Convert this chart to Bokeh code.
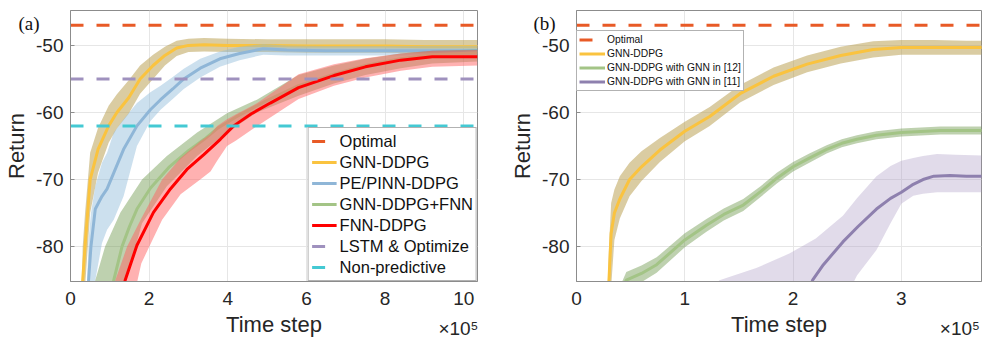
from bokeh.plotting import figure
from bokeh.models import Range1d, FixedTicker, Legend, LegendItem
from bokeh.layouts import row
from bokeh.embed import file_html
from bokeh.resources import INLINE

# ---------------- data (time step in units of 1e5) ----------------
Y_MIN, Y_MAX = -85.2, -44.8
A_XMAX = 10.35
B_XMAX = 3.74
optimal = -47
lstm_opt = -55
non_pred = -62
y_ticks = [-80, -70, -60, -50]
y_tick_text = ["-80", "-70", "-60", "-50"]
a_x_ticks = [0, 2, 4, 6, 8, 10]
b_x_ticks = [0, 1, 2, 3]
exp_text = "\u00d710\u2075"
B_EXP_X = 3.54         # where the x10^5 note sits in panel (b)

# Panel (a)
a_gnn_x = [0.28, 0.31, 0.37, 0.5, 0.7, 0.97, 1.18, 1.48, 1.77, 2.1, 2.4, 2.7, 3.0, 3.4, 4.0, 5.0, 6.0, 7.0, 8.0, 9.0, 10.35]
a_gnn_m = [-95, -85, -80, -70, -65.5, -62, -60, -57.8, -55, -53, -51.5, -50.4, -50.0, -49.9, -50.0, -50.0, -50.1, -50.1, -50.1, -50.2, -50.2]
a_gnn_hi = [-88, -80, -75, -66, -62.3, -59, -57.3, -55.2, -53, -51.4, -50.2, -49.3, -49.0, -48.9, -49.0, -49.1, -49.1, -49.1, -49.1, -49.2, -49.2]
a_gnn_lo = [-100, -92, -86, -75, -69, -64.5, -62.4, -60.2, -57.2, -55, -53, -51.6, -51.0, -50.9, -51.0, -51.0, -51.1, -51.1, -51.1, -51.2, -51.2]

a_pe_x = [0.43, 0.46, 0.52, 0.63, 0.8, 0.93, 1.1, 1.35, 1.69, 2.03, 2.29, 2.6, 2.88, 3.3, 3.8, 4.3, 4.9, 5.5, 6.5, 7.5, 8.5, 9.5, 10.35]
a_pe_m = [-95, -85, -80, -74.4, -72.5, -71.4, -69, -65.5, -62, -59.6, -58.1, -56.5, -55, -53.4, -52, -51.2, -50.5, -50.7, -50.8, -50.8, -50.8, -50.8, -50.8]
a_pe_hi = [-84, -79, -75, -71, -67.5, -66, -63, -61, -58.6, -57, -56, -54.7, -53.5, -52, -50.9, -50.2, -49.8, -50.0, -50.1, -50.1, -50.1, -50.1, -50.1]
a_pe_lo = [-100, -95, -90, -85, -79.5, -77.5, -76, -72.5, -65, -61.3, -59.6, -58, -56.5, -54.8, -53.2, -52.2, -51.4, -51.5, -51.5, -51.5, -51.5, -51.5, -51.5]

a_gf_x = [1.0, 1.1, 1.31, 1.5, 1.69, 2.03, 2.5, 3.0, 3.4, 3.73, 4.2, 5.0, 5.8, 6.7, 7.5, 8.4, 9.2, 10.35]
a_gf_m = [-88, -85, -80, -77, -74.4, -71.3, -68.2, -65.7, -64, -62.4, -60.7, -58.2, -56, -54.3, -53, -52, -51.4, -51.1]
a_gf_bx = [0.55, 0.63, 0.88, 1.27, 1.82, 2.45, 3.22, 3.98, 4.74, 5.8, 6.7, 7.5, 8.4, 9.2, 10.35]
a_gf_hi = [-88, -85, -80, -74.9, -70, -66.5, -63, -60.1, -58.1, -54.4, -53, -52, -51.2, -50.8, -50.6]
a_gf_lo = [-100, -100, -97, -88, -76.5, -71, -66.5, -63, -60, -57.5, -55.7, -54.4, -53.4, -52.7, -52.4]

a_fnn_x = [1.3, 1.39, 1.69, 2.11, 2.54, 2.96, 3.39, 3.81, 4.15, 4.6, 5.08, 5.8, 6.7, 7.5, 8.4, 9.2, 10.35]
a_fnn_m = [-88, -85, -79.8, -74.9, -71.4, -68.5, -66.3, -64, -62, -60.2, -58.6, -56.3, -54.5, -53.2, -52.2, -51.7, -51.7]
a_fnn_bx = [1.05, 1.14, 1.44, 1.8, 2.33, 2.8, 3.3, 3.56, 3.73, 3.98, 4.2, 4.75, 5.8, 6.7, 7.5, 8.4, 9.2, 10.35]
a_fnn_hi = [-88, -85, -80, -75.8, -70, -66.8, -64.3, -63.2, -62, -61, -60.3, -58.6, -54.3, -52.8, -51.9, -51.2, -50.8, -50.7]
a_fnn_lo = [-100, -98, -92, -82.5, -76, -72.2, -70, -68.8, -67.2, -65, -64.2, -62, -58, -56, -54.8, -53.8, -53.2, -53.0]

# Panel (b)
b_gnn_x = [0.28, 0.3, 0.32, 0.35, 0.4, 0.49, 0.6, 0.77, 1.0, 1.23, 1.51, 1.82, 2.13, 2.44, 2.74, 3.0, 3.3, 3.6, 3.75]
b_gnn_m = [-95, -85, -78, -75, -72.9, -70, -68.1, -65.6, -62.8, -60.6, -57.2, -54.6, -52.8, -51.5, -50.6, -50.3, -50.3, -50.3, -50.3]
b_gnn_hi = [-90, -80, -73.5, -71.5, -69.5, -67.5, -65.8, -63.8, -61.4, -59.2, -55.9, -53.3, -51.5, -50.2, -49.4, -49.2, -49.2, -49.3, -49.3]
b_gnn_lo = [-100, -92, -86, -79, -75.8, -72.5, -70.2, -67.4, -64.3, -62, -58.5, -55.9, -54, -52.7, -51.8, -51.4, -51.4, -51.4, -51.4]

b_g12_x = [0.4, 0.46, 0.6, 0.74, 1.0, 1.2, 1.36, 1.54, 1.7, 1.85, 2.0, 2.15, 2.31, 2.45, 2.59, 2.77, 3.0, 3.36, 3.75]
b_g12_m = [-87, -85, -84, -82.7, -79, -76.8, -75.2, -73.8, -71.8, -69.8, -68.1, -66.8, -65.5, -64.6, -64, -63.4, -63.0, -62.7, -62.7]
b_g12_hi = [-86, -83.8, -82.8, -81.6, -78, -75.9, -74.3, -72.9, -71, -69, -67.4, -66.1, -64.9, -64.0, -63.4, -62.8, -62.4, -62.1, -62.1]
b_g12_lo = [-88.5, -86.2, -85.3, -83.9, -80.1, -77.8, -76.1, -74.7, -72.6, -70.6, -68.8, -67.5, -66.1, -65.2, -64.6, -64.0, -63.6, -63.3, -63.3]

b_g11_x = [2.12, 2.18, 2.28, 2.46, 2.6, 2.77, 2.9, 3.0, 3.1, 3.2, 3.3, 3.45, 3.6, 3.75]
b_g11_m = [-88, -85, -82.7, -79.3, -77, -74.4, -72.8, -71.9, -70.8, -70.0, -69.5, -69.4, -69.5, -69.5]
b_g11_bx = [1.25, 1.32, 1.66, 1.97, 2.21, 2.46, 2.59, 2.77, 2.9, 3.0, 3.11, 3.2, 3.33, 3.5, 3.75]
b_g11_hi = [-86, -85, -83.2, -81, -78.8, -75.4, -72.8, -69.5, -68, -67.2, -66.8, -66.5, -66.2, -66.3, -66.4]
b_g11_lo = [-100, -100, -100, -100, -100, -88.5, -84.3, -80.5, -76.5, -73.6, -72.4, -72.1, -71.9, -71.9, -71.9]

# ---------------- styling ----------------
FONT = "Liberation Sans"
TXT = "#262626"
AXC = "#8c8c8c"
GRID = "#e6e6e6"

C_OPT = "#E85A26"
C_LSTM = "#9F91BE"
C_NON = "#44C9D3"
C_GNN, F_GNN = "#FAC33F", "#B59A45"
C_PE, F_PE = "#8FB6D7", "#8DBBD9"
C_GF, F_GF = "#A3C486", "#6E9A4E"
C_FNN, F_FNN = "#FF0000", "#FF6464"
C_G11, F_G11 = "#8E80AE", "#A898C4"
DASH = "13 13"
NBSP = "\u00a0"


def make_fig(width, xmax, xticks, xlabels, tag, tag_offset, border_left, border_right):
    p = figure(width=width, height=340, output_backend="svg", toolbar_location=None,
               x_range=Range1d(0, xmax), y_range=Range1d(Y_MIN, Y_MAX),
               min_border_left=border_left, min_border_right=border_right,
               min_border_top=10, min_border_bottom=59)
    # panel tag "(a)" / "(b)" drawn as the figure title, pulled down into place
    p.title.text = tag
    p.title.align = "left"
    p.title.vertical_align = "bottom"
    p.title.offset = tag_offset
    p.title.standoff = -46
    p.title.text_font = "Liberation Serif"
    p.title.text_font_size = "19px"
    p.title.text_font_style = "normal"
    p.title.text_color = "#111111"

    p.xaxis.ticker = FixedTicker(ticks=list(xlabels.keys()))
    p.xaxis.major_label_overrides = xlabels
    p.yaxis.ticker = FixedTicker(ticks=y_ticks)
    p.yaxis.major_label_overrides = {t: s for t, s in zip(y_ticks, y_tick_text)}
    p.xgrid.ticker = FixedTicker(ticks=xticks)
    p.ygrid.ticker = FixedTicker(ticks=y_ticks)
    p.xaxis.axis_label = "Time step"
    p.yaxis.axis_label = "Return"
    for ax in (p.xaxis[0], p.yaxis[0]):
        ax.axis_line_color = AXC
        ax.major_tick_line_color = AXC
        ax.major_tick_in = 0
        ax.major_tick_out = 0
        ax.minor_tick_line_color = None
        ax.major_label_text_font = FONT
        ax.major_label_text_font_size = "19px"
        ax.major_label_text_color = TXT
        ax.axis_label_text_font = FONT
        ax.axis_label_text_font_size = "22px"
        ax.axis_label_text_font_style = "normal"
        ax.axis_label_text_color = TXT
    p.yaxis.major_tick_in = 4
    p.xaxis.major_label_text_line_height = 1.45
    p.xaxis.major_label_standoff = 6
    p.xaxis.axis_label_standoff = -30
    p.yaxis.major_label_standoff = 7
    p.yaxis.axis_label_standoff = 4
    p.xgrid.grid_line_color = GRID
    p.ygrid.grid_line_color = GRID
    p.outline_line_color = AXC
    p.outline_line_alpha = 1
    p.background_fill_color = "white"
    p.border_fill_color = "white"
    return p


def band_line(p, x, lo, hi, fill, alpha, lx, ly, color):
    p.varea(x=x, y1=lo, y2=hi, fill_color=fill, fill_alpha=alpha)
    return p.line(lx, ly, line_color=color, line_width=3)


def hline(p, xmax, yv, color):
    return p.line([0, xmax], [yv, yv], line_color=color, line_width=3, line_dash=DASH)


# ---------------- panel (a) ----------------
a_labels = {t: str(t) for t in a_x_ticks}
a_labels[a_x_ticks[-1]] = str(a_x_ticks[-1]) + "\n" + exp_text + NBSP * 2
pa = make_fig(490, A_XMAX, a_x_ticks, a_labels, "(a)", -52, 70, 13)
r_gnn = band_line(pa, a_gnn_x, a_gnn_lo, a_gnn_hi, F_GNN, 0.5, a_gnn_x, a_gnn_m, C_GNN)
r_pe = band_line(pa, a_pe_x, a_pe_lo, a_pe_hi, F_PE, 0.45, a_pe_x, a_pe_m, C_PE)
r_gf = band_line(pa, a_gf_bx, a_gf_lo, a_gf_hi, F_GF, 0.45, a_gf_x, a_gf_m, C_GF)
r_fnn = band_line(pa, a_fnn_bx, a_fnn_lo, a_fnn_hi, F_FNN, 0.5, a_fnn_x, a_fnn_m, C_FNN)
r_opt = hline(pa, A_XMAX, optimal, C_OPT)
r_lstm = hline(pa, A_XMAX, lstm_opt, C_LSTM)
r_non = hline(pa, A_XMAX, non_pred, C_NON)

leg_a = Legend(items=[
    LegendItem(label="Optimal", renderers=[r_opt]),
    LegendItem(label="GNN-DDPG", renderers=[r_gnn]),
    LegendItem(label="PE/PINN-DDPG", renderers=[r_pe]),
    LegendItem(label="GNN-DDPG+FNN", renderers=[r_gf]),
    LegendItem(label="FNN-DDPG", renderers=[r_fnn]),
    LegendItem(label="LSTM & Optimize", renderers=[r_lstm]),
    LegendItem(label="Non-predictive", renderers=[r_non]),
], location="bottom_right", margin=0, padding=3, spacing=1,
    glyph_width=25, glyph_height=20, label_height=20, label_standoff=3,
    label_text_font=FONT, label_text_font_size="16.5px", label_text_color="#111111",
    border_line_color="#666666", border_line_width=1,
    background_fill_color="white", background_fill_alpha=1)
pa.add_layout(leg_a)

# ---------------- panel (b) ----------------
b_labels = {t: str(t) for t in b_x_ticks}
b_labels[B_EXP_X] = NBSP + "\n" + exp_text
pb = make_fig(492, B_XMAX, b_x_ticks, b_labels, "(b)", -43, 86, 1)
s_gnn = band_line(pb, b_gnn_x, b_gnn_lo, b_gnn_hi, F_GNN, 0.5, b_gnn_x, b_gnn_m, C_GNN)
s_g12 = band_line(pb, b_g12_x, b_g12_lo, b_g12_hi, F_GF, 0.45, b_g12_x, b_g12_m, C_GF)
s_g11 = band_line(pb, b_g11_bx, b_g11_lo, b_g11_hi, F_G11, 0.35, b_g11_x, b_g11_m, C_G11)
s_opt = hline(pb, B_XMAX, optimal, C_OPT)

leg_b = Legend(items=[
    LegendItem(label="Optimal", renderers=[s_opt]),
    LegendItem(label="GNN-DDPG", renderers=[s_gnn]),
    LegendItem(label="GNN-DDPG with GNN in [12]", renderers=[s_g12]),
    LegendItem(label="GNN-DDPG with GNN in [11]", renderers=[s_g11]),
], location=(0, 190), margin=0, padding=2, spacing=1,
    glyph_width=26, glyph_height=13, label_height=13, label_standoff=2,
    label_text_font=FONT, label_text_font_size="10.3px", label_text_color="#111111",
    border_line_color="#666666", border_line_width=1,
    background_fill_color="white", background_fill_alpha=1)
pb.add_layout(leg_b)

layout = row(pa, pb)
open("out.html", "w").write(file_html(layout, INLINE))
